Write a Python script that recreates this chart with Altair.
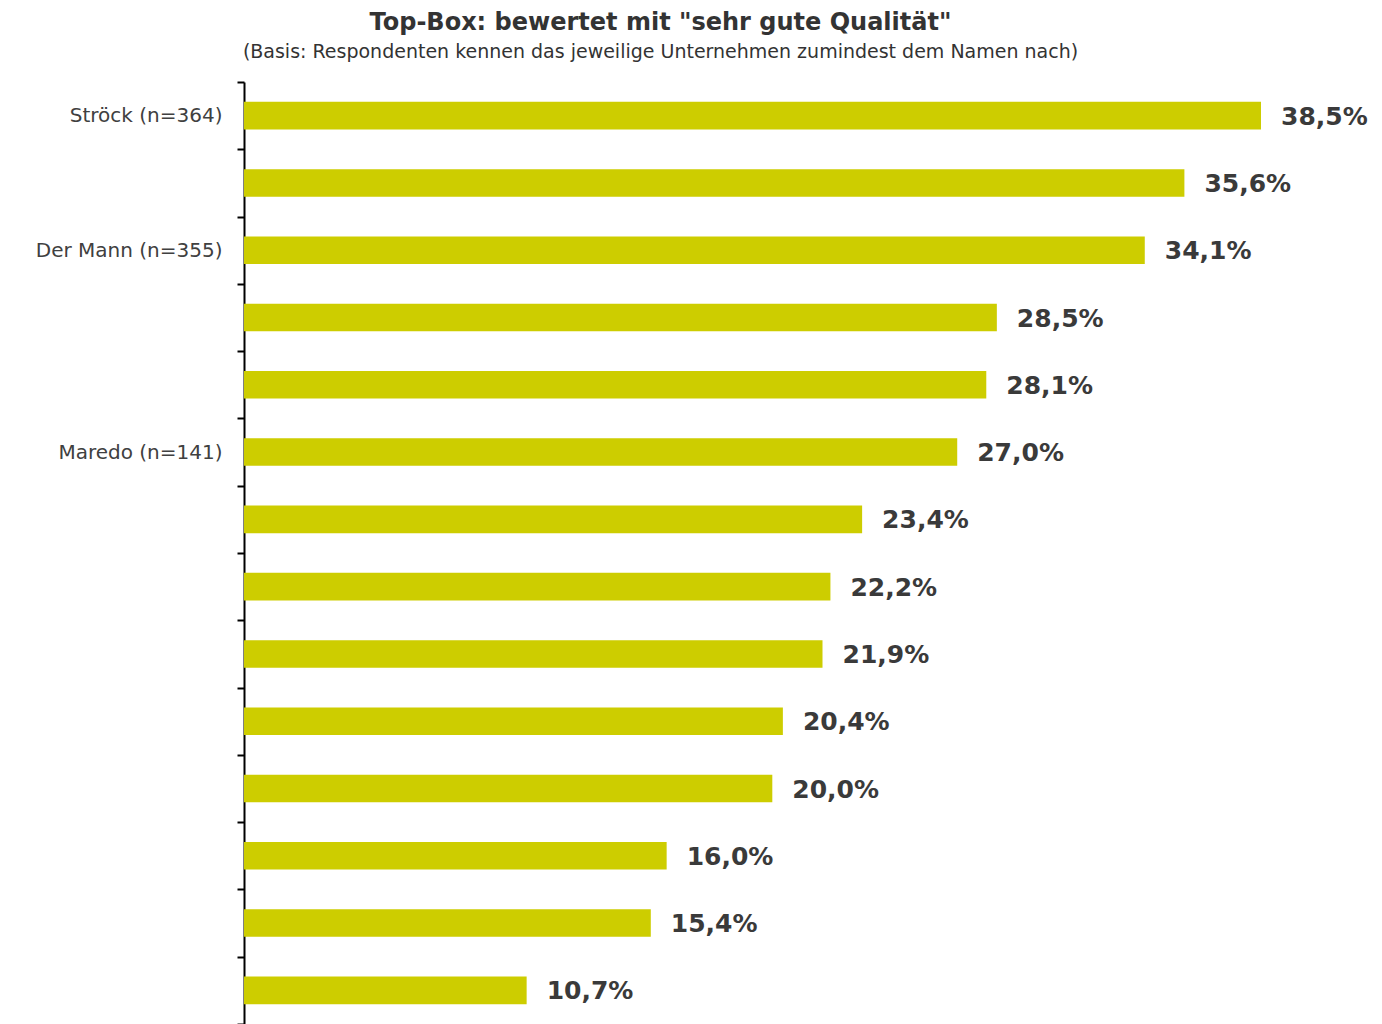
import altair as alt
import pandas as pd

labels = ["Ströck (n=364)", "", "Der Mann (n=355)", "", "", "Maredo (n=141)",
          "", "", "", "", "", "", "", ""]
values = [38.5, 35.6, 34.1, 28.5, 28.1, 27.0, 23.4, 22.2, 21.9, 20.4, 20.0, 16.0, 15.4, 10.7]

df = pd.DataFrame({
    "key": [f"{i:02d}|{l}" for i, l in enumerate(labels)],
    "value": values,
})

FONT = "DejaVu Sans"
BAR = "#CDCD00"

y = alt.Y("key:N", sort=None, title=None,
          scale=alt.Scale(paddingInner=0, paddingOuter=0),
          axis=alt.Axis(labelExpr="split(datum.value, '|')[1]", tickBand="extent",
                        domainColor="#000000", domainWidth=2, tickColor="#000000",
                        tickWidth=2, tickSize=7, labelPadding=15, labelFont=FONT,
                        labelFontSize=20, labelColor="#404040", labelLimit=400,
                        minExtent=231, maxExtent=231))
x = alt.X("value:Q", title=None, scale=alt.Scale(domain=[0, 38.5], nice=False, zero=True),
          axis=None)

base = alt.Chart(df).encode(y=y)
bars = base.mark_bar(color=BAR, height={"band": 0.41}).encode(x=x)
text = base.transform_calculate(
    lab="replace(format(datum.value, '.1f'), '.', ',') + '%'"
).mark_text(align="left", baseline="middle", dx=20, dy=1, font=FONT, fontSize=25,
            fontWeight="bold", color="#3a3a3a").encode(x=x, text="lab:N")

chart = (bars + text).properties(
    width=1017, height=942,
    padding={"left": 5, "top": 3, "right": 5, "bottom": 0},
    title=alt.TitleParams(
        text='Top-Box: bewertet mit "sehr gute Qualität"',
        subtitle="(Basis: Respondenten kennen das jeweilige Unternehmen zumindest dem Namen nach)",
        font=FONT, fontSize=24, fontWeight="bold", color="#333333",
        subtitleFont=FONT, subtitleFontSize=19, subtitleColor="#333333",
        subtitlePadding=8, anchor="middle", dx=-92, offset=10,
    ),
).configure_view(stroke=None)

chart.save("out.html", embed_options={"renderer": "svg", "actions": False})
